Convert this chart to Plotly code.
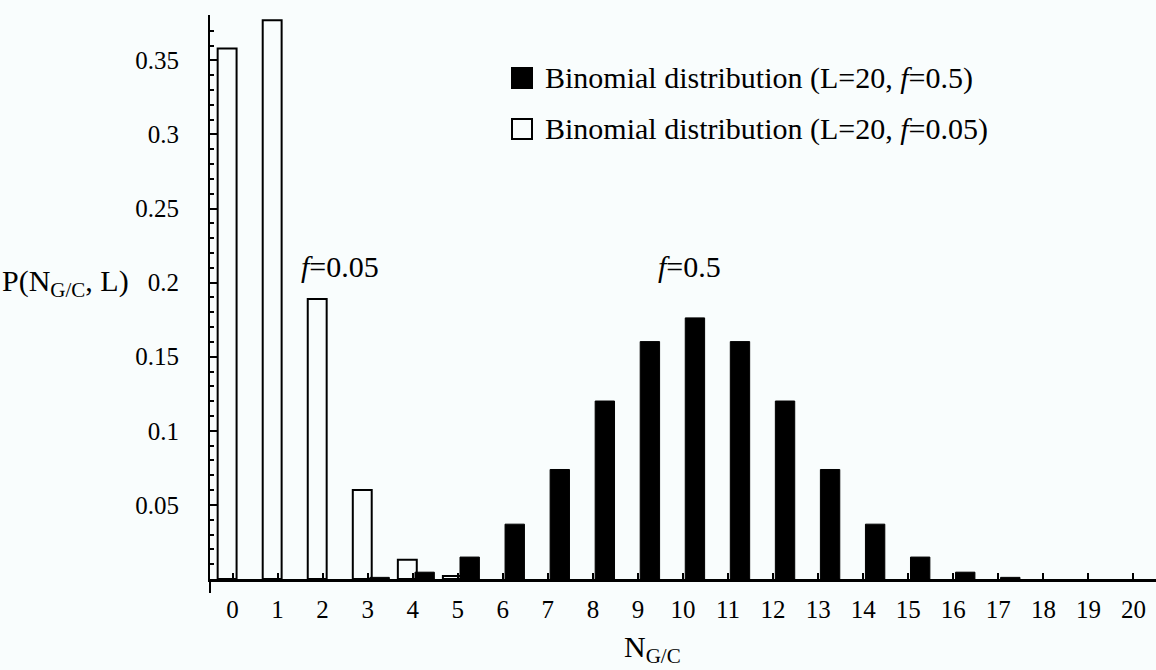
import plotly.graph_objects as go

# Number of G/C bases in a sequence of length L = 20
n_gc = list(range(21))

# Probabilities for f = 0.05 (open bars)
p_f005 = [0.358, 0.377, 0.189, 0.060, 0.013, 0.002, 0, 0, 0, 0, 0,
          0, 0, 0, 0, 0, 0, 0, 0, 0, 0]

# Probabilities for f = 0.5 (filled bars)
p_f05 = [0, 0, 0, 0.0011, 0.0046, 0.0148, 0.037, 0.0739, 0.1201, 0.1602, 0.1762,
         0.1602, 0.1201, 0.0739, 0.037, 0.0148, 0.0046, 0.0011, 0, 0, 0]

y_tick_vals = [0.05, 0.1, 0.15, 0.2, 0.25, 0.3, 0.35]
y_tick_text = ["0.05", "0.1", "0.15", "0.2", "0.25", "0.3", "0.35"]
x_tick_text = [str(v) for v in n_gc]

legend_labels = ["Binomial distribution (L=20, <i>f</i>=0.5)",
                 "Binomial distribution (L=20, <i>f</i>=0.05)"]

BG = "#f9fdfd"
FONT = "Liberation Serif"

W, H = 1156, 670
L_M, R_M, T_M, B_M = 210, 0, 15, 91
PW, PH = W - L_M - R_M, H - T_M - B_M


def px(xp):
    return (xp - L_M) / PW


def py(yp):
    return (H - B_M - yp) / PH


def nonzero(values):
    # empty categories get no bar (and no outline on the axis)
    return [v if v > 0 else None for v in values]


fig = go.Figure()

fig.add_trace(go.Bar(
    x=n_gc, y=nonzero(p_f005), offset=-0.33, width=0.42,
    marker=dict(color=BG, line=dict(color="black", width=2)),
    showlegend=False,
))
fig.add_trace(go.Bar(
    x=n_gc, y=nonzero(p_f05), offset=0.05, width=0.43,
    marker=dict(color="black", line=dict(color="black", width=1)),
    showlegend=False,
))

annotations = [
    dict(text="P(N<sub>G/C</sub>, L)", xref="paper", yref="paper",
         x=px(0), y=py(283), xanchor="left", yanchor="middle",
         showarrow=False, font=dict(size=30)),
    dict(text="N<sub>G/C</sub>", xref="paper", yref="paper",
         x=px(652), y=py(649), xanchor="center", yanchor="middle",
         showarrow=False, font=dict(size=30)),
    dict(text="<i>f</i>=0.05", xref="paper", yref="paper",
         x=px(299), y=py(266), xanchor="left", yanchor="middle",
         showarrow=False, font=dict(size=30)),
    dict(text="<i>f</i>=0.5", xref="paper", yref="paper",
         x=px(656), y=py(266), xanchor="left", yanchor="middle",
         showarrow=False, font=dict(size=30)),
]

# Legend drawn as swatches plus text
legend_rows = [(78, "black"), (129, BG)]
shapes = []
for (yc, fill), label in zip(legend_rows, legend_labels):
    shapes.append(dict(type="rect", xref="paper", yref="paper",
                       x0=px(512), x1=px(532), y0=py(yc + 10), y1=py(yc - 10),
                       fillcolor=fill, line=dict(color="black", width=2)))
    annotations.append(dict(text=label, xref="paper", yref="paper",
                            x=px(543), y=py(yc), xanchor="left", yanchor="middle",
                            showarrow=False, font=dict(size=30)))

# Vertical axis line continues slightly below the horizontal axis
shapes.append(dict(type="line", xref="paper", yref="paper",
                   x0=0, x1=0, y0=0, y1=py(593),
                   line=dict(color="black", width=2)))

fig.update_layout(
    width=W, height=H,
    margin=dict(l=L_M, r=R_M, t=T_M, b=B_M, pad=0),
    paper_bgcolor=BG, plot_bgcolor=BG,
    font=dict(family=FONT, color="black", size=25),
    barmode="overlay",
    annotations=annotations,
    shapes=shapes,
)

fig.update_xaxes(
    range=[-0.5, 20.5],
    tickmode="array", tickvals=n_gc, ticktext=x_tick_text,
    ticks="inside", ticklen=6, tickwidth=2, tickcolor="black",
    showline=True, linecolor="black", linewidth=2.5,
    showgrid=False, zeroline=False,
    ticklabelstandoff=6,
    tickfont=dict(size=25),
)
fig.update_yaxes(
    range=[0, 0.3806],
    tickmode="array", tickvals=y_tick_vals, ticktext=y_tick_text,
    ticks="inside", ticklen=7, tickwidth=2, tickcolor="black",
    minor=dict(tickmode="array",
               tickvals=[i / 100 for i in range(1, 39) if i % 5],
               ticks="inside", ticklen=4, tickwidth=1.5, tickcolor="black"),
    showline=True, linecolor="black", linewidth=2,
    showgrid=False, zeroline=False,
    ticklabelstandoff=24,
    tickfont=dict(size=25),
)

fig.write_html("out.html")
